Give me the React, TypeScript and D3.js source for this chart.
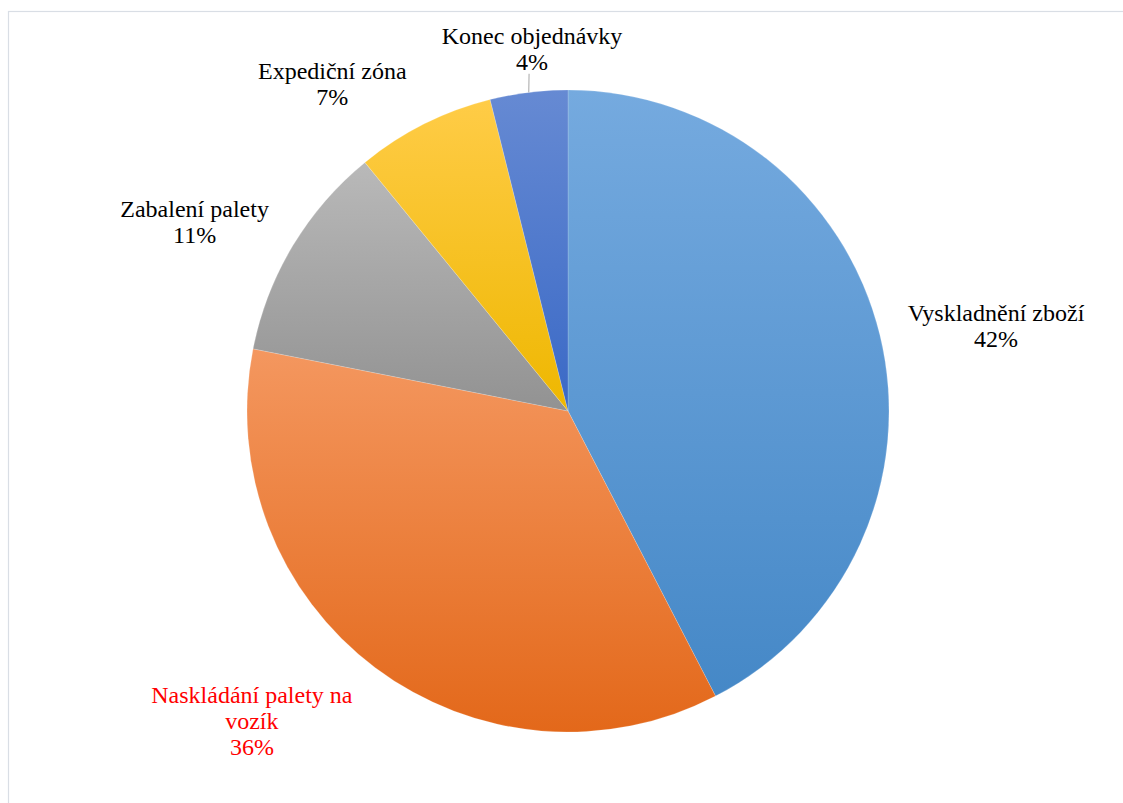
import React from "react";
import * as d3 from "d3";

const categories = [
  "Vyskladnění zboží",
  "Naskládání palety na vozík",
  "Zabalení palety",
  "Expediční zóna",
  "Konec objednávky",
];
const values = [42.4, 35.7, 11.0, 7.0, 3.9];

// label text lines (as wrapped in the reference)
const labelLines = [
  ["Vyskladnění zboží"],
  ["Naskládání palety na", "vozík"],
  ["Zabalení palety"],
  ["Expediční zóna"],
  ["Konec objednávky"],
];

// styling / layout (not data)
const gradTop = ["#75aadf", "#f4975f", "#b9b9b9", "#ffcc47", "#668ad3"];
const gradBottom = ["#4588c7", "#e3681a", "#929292", "#eeb700", "#3a69c6"];
const labelColor = ["#000", "#ff0000", "#000", "#000", "#000"];
const labelAngle = [79.0, 225.4, 296.7, 324.1, 354.3];
const labelRadius = [436, 444, 418, 402, 362];

const W = 1123;
const H = 803;
const cx = 568;
const cy = 411;
const R = 321;
const fontSize = 24;
const lineH = 26;
const FONT = '"Liberation Serif", "Times New Roman", serif';

export default function App() {
  const pie = d3
    .pie<number>()
    .sort(null)
    .value((d) => d);
  const arcs = pie(values);
  const arc = d3.arc<d3.PieArcDatum<number>>().innerRadius(0).outerRadius(R);
  const total = d3.sum(values);

  return (
    <div style={{ position: "absolute", left: 0, top: 0, width: W, height: H, overflow: "hidden" }}>
      <svg width={W} height={H} style={{ display: "block", background: "#fff" }}>
        <defs>
          {arcs.map((a, i) => (
            <linearGradient key={i} id={`g${i}`} x1="0" y1="0" x2="0" y2="1">
              <stop offset="0" stopColor={gradTop[i]} />
              <stop offset="1" stopColor={gradBottom[i]} />
            </linearGradient>
          ))}
        </defs>
        <rect x={8.5} y={11.5} width={1200} height={900} fill="none" stroke="#d9dee5" strokeWidth={1.2} />
        <g transform={`translate(${cx},${cy})`}>
          {arcs.map((a, i) => (
            <path key={i} d={arc(a) || ""} fill={`url(#g${i})`} stroke="#ffffff" strokeOpacity={0.35} strokeWidth={0.5} />
          ))}
          {arcs.map((a, i) => {
            const ang = (labelAngle[i] * Math.PI) / 180;
            const lx = labelRadius[i] * Math.sin(ang);
            const ly = -labelRadius[i] * Math.cos(ang);
            const lines = [...labelLines[i], `${Math.round((values[i] / total) * 100)}%`];
            const n = lines.length;
            const mid = (a.startAngle + a.endAngle) / 2;
            const ex = R * Math.sin(mid);
            const ey = -R * Math.cos(mid);
            const blockTop = ly - (n * lineH) / 2;
            const showLeader = i === 4;
            return (
              <g key={`l${i}`}>
                {showLeader && (
                  <line
                    x1={ex}
                    y1={ey}
                    x2={ex + 0.3}
                    y2={ly + (n * lineH) / 2 - 3}
                    stroke="#a6a6a6"
                    strokeWidth={1}
                  />
                )}
                <text
                  textAnchor="middle"
                  style={{ fontFamily: FONT, fontSize: fontSize }}
                  fill={labelColor[i]}
                >
                  {lines.map((t, j) => (
                    <tspan key={j} x={lx} y={blockTop + lineH * j + lineH / 2 + fontSize * 0.27}>
                      {t}
                    </tspan>
                  ))}
                </text>
              </g>
            );
          })}
        </g>
      </svg>
    </div>
  );
}
